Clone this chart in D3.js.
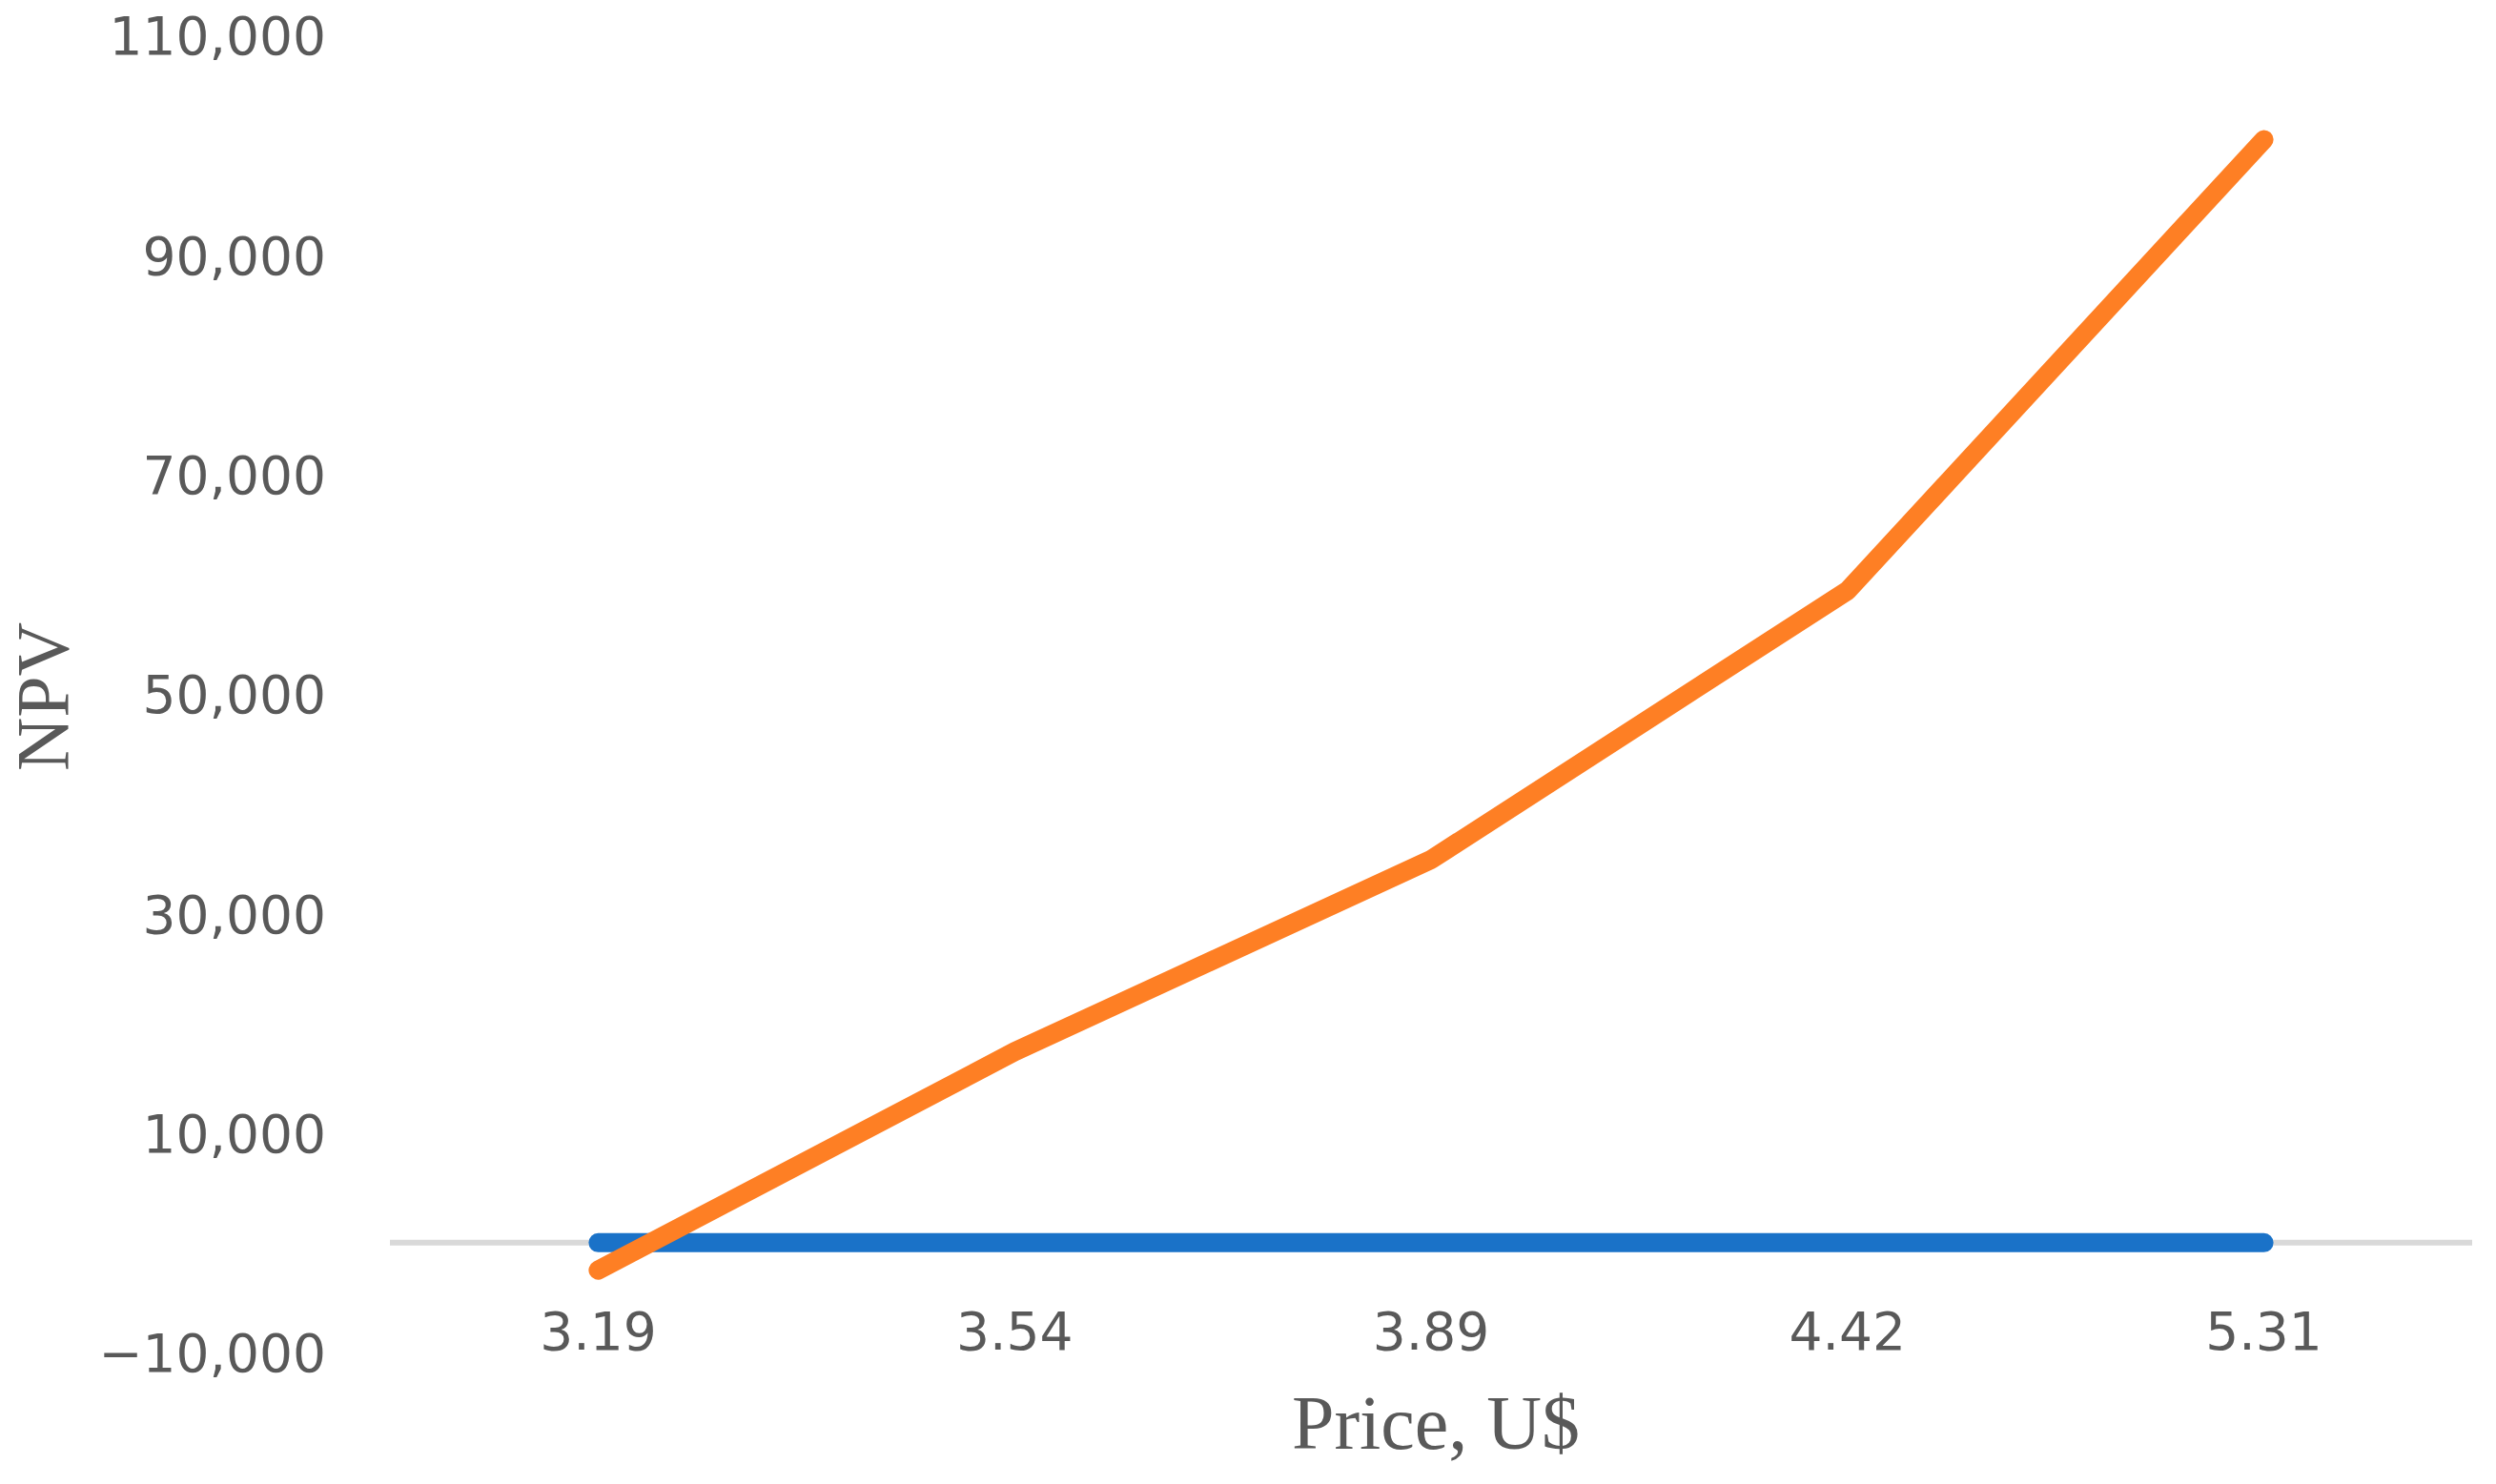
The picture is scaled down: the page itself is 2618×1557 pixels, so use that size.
<!DOCTYPE html>
<html>
<head>
<meta charset="utf-8">
<script src="https://cdn.jsdelivr.net/npm/d3@7"></script>
<style>
  html, body { margin: 0; padding: 0; background: #fff; }
  svg { display: block; }
</style>
</head>
<body>
<svg id="chart" width="2618" height="1557"></svg>
<script>
// ---- data ----
const categories = ["3.19", "3.54", "3.89", "4.42", "5.31"];
const npvSeries = [-2500, 17400, 34900, 59400, 100500];
const baseSeries = [0, 0, 0, 0, 0];
const yTicks = [-10000, 10000, 30000, 50000, 70000, 90000, 110000];
const xTitle = "Price, U$";
const yTitle = "NPV";

// ---- layout ----
const W = 2618, H = 1557;
const plot = { left: 409, right: 2593, top: 37, bottom: 1419 };
const textColor = "#595959";

const svg = d3.select("#chart");

const x = d3.scaleBand().domain(categories).range([plot.left, plot.right]).padding(0);
const y = d3.scaleLinear().domain([-10000, 110000]).range([plot.bottom, plot.top]);
const cx = c => x(c) + x.bandwidth() / 2;

// zero axis line
svg.append("line")
  .attr("x1", plot.left).attr("x2", plot.right)
  .attr("y1", y(0)).attr("y2", y(0))
  .attr("stroke", "#d9d9d9").attr("stroke-width", 6);

// y axis labels
const fmt = v => (v < 0 ? "\u2212" : "") + d3.format(",")(Math.abs(v));
const yAxis = d3.axisLeft(y).tickValues(yTicks).tickFormat(fmt).tickSize(0).tickPadding(0);
const gy = svg.append("g").attr("transform", "translate(342,0)").call(yAxis);
gy.select(".domain").remove();
gy.selectAll("text")
  .attr("fill", textColor)
  .style("font-family", "'DejaVu Sans', sans-serif")
  .style("font-size", "55px")
  .attr("dy", "0.36em");

// x axis labels
const xAxis = d3.axisBottom(x).tickSize(0).tickPadding(0);
const gx = svg.append("g").attr("transform", "translate(0,1396)").call(xAxis);
gx.select(".domain").remove();
gx.selectAll("text")
  .attr("fill", textColor)
  .style("font-family", "'DejaVu Sans', sans-serif")
  .style("font-size", "55px")
  .attr("y", 0)
  .attr("dy", "0.36em");

// lines
const line = d3.line().x((d, i) => cx(categories[i])).y(d => y(d));

svg.append("path")
  .datum(baseSeries)
  .attr("d", line)
  .attr("fill", "none")
  .attr("stroke", "#1a72c8")
  .attr("stroke-width", 20)
  .attr("stroke-linecap", "round")
  .attr("stroke-linejoin", "round");

svg.append("path")
  .datum(npvSeries)
  .attr("d", line)
  .attr("fill", "none")
  .attr("stroke", "#fe7f24")
  .attr("stroke-width", 20)
  .attr("stroke-linecap", "round")
  .attr("stroke-linejoin", "round");

// axis titles
svg.append("text")
  .attr("x", (plot.left + plot.right) / 2 + 5)
  .attr("y", 1520)
  .attr("text-anchor", "middle")
  .attr("fill", textColor)
  .style("font-family", "'Liberation Serif', serif")
  .style("font-size", "80px")
  .text(xTitle);

svg.append("text")
  .attr("transform", "translate(71,731) rotate(-90)")
  .attr("text-anchor", "middle")
  .attr("fill", textColor)
  .style("font-family", "'Liberation Serif', serif")
  .style("font-size", "78px")
  .text(yTitle);
</script>
</body>
</html>
